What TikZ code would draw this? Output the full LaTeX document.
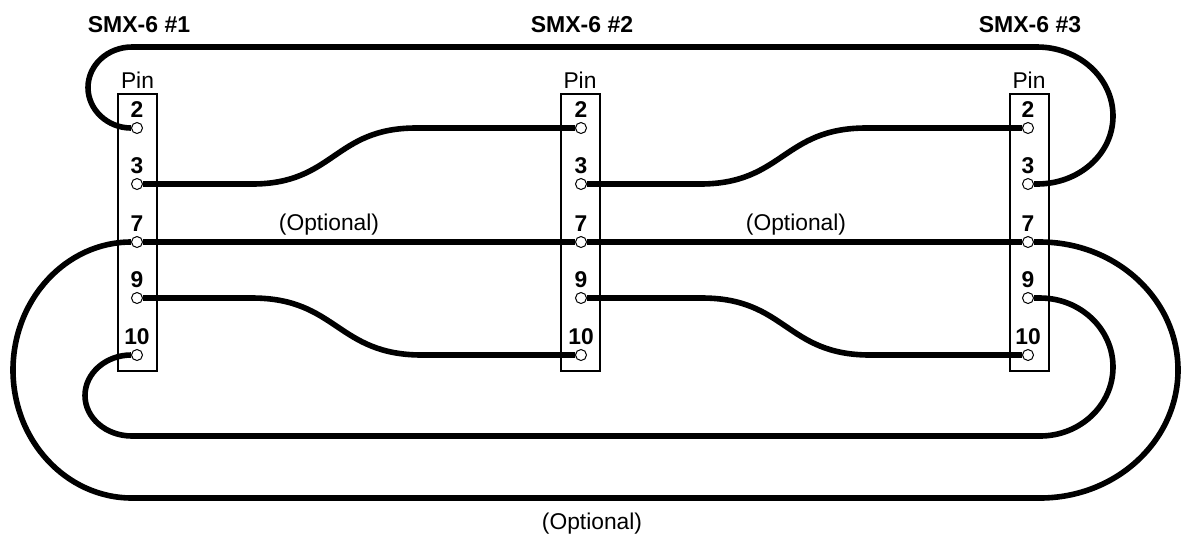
\documentclass[tikz,border=0pt]{standalone}
\usepackage{fontspec}
\setmainfont{Liberation Sans}
\usetikzlibrary{positioning}
\begin{document}
\begin{tikzpicture}[
   x=0.5pt,y=-0.5pt,
   font=\fontsize{11.4}{13}\selectfont,
   strip/.style={draw,line width=1pt,minimum width=19.5pt,minimum height=138.5pt,inner sep=0pt},
   pin/.style={circle,draw,fill=white,line width=0.5pt,minimum size=5.5pt,inner sep=0pt},
   num/.style={font=\fontsize{11.4}{13}\selectfont\bfseries,inner sep=0pt},
   title/.style={font=\fontsize{11.5}{13}\selectfont\bfseries,anchor=base},
   pinlbl/.style={inner sep=0pt},
   wire/.style={line width=2.8pt}]
\useasboundingbox (0,0) rectangle (1183,538);
% connectors
\node[strip] (A) at (137.5,232.5) {};
\node[strip] (B) at (580,232.5) {};
\node[strip] (C) at (1029,232.5) {};
\node[pinlbl, above=2pt of A] {Pin};
\node[pinlbl, above=2pt of B] {Pin};
\node[pinlbl, above=2pt of C] {Pin};
\node[title] (TA) at (139,32) {SMX-6 \#1};
\node[title] (TB) at (582,32) {SMX-6 \#2};
\node[title] (TC) at (1030,32) {SMX-6 \#3};
% pins
\node[pin] (A2) at (137,128) {};
\node[pin] (A3) at (137,184) {};
\node[pin] (A7) at (137,242) {};
\node[pin] (A9) at (137,298) {};
\node[pin] (A10) at (137,355) {};
\node[pin] (B2) at (581,128) {};
\node[pin] (B3) at (581,184) {};
\node[pin] (B7) at (581,242) {};
\node[pin] (B9) at (581,298) {};
\node[pin] (B10) at (581,355) {};
\node[pin] (C2) at (1028,128) {};
\node[pin] (C3) at (1028,184) {};
\node[pin] (C7) at (1028,242) {};
\node[pin] (C9) at (1028,298) {};
\node[pin] (C10) at (1028,355) {};
\node[num, above=2pt of A2] {2};
\node[num, above=2pt of A3] {3};
\node[num, above=2pt of A7] {7};
\node[num, above=2pt of A9] {9};
\node[num, above=2pt of A10] {10};
\node[num, above=2pt of B2] {2};
\node[num, above=2pt of B3] {3};
\node[num, above=2pt of B7] {7};
\node[num, above=2pt of B9] {9};
\node[num, above=2pt of B10] {10};
\node[num, above=2pt of C2] {2};
\node[num, above=2pt of C3] {3};
\node[num, above=2pt of C7] {7};
\node[num, above=2pt of C9] {9};
\node[num, above=2pt of C10] {10};
% wires
\draw[wire] (A2.west) .. controls (107.7,128) and (88,109.9) .. (88,87.5)
   .. controls (88,65.1) and (107.7,47) .. (132,47) -- (1037,47)
   .. controls (1079,47) and (1113,77.9) .. (1113,116)
   .. controls (1113,154.1) and (1079,184) .. (1037,184) -- (C3.east);
\draw[wire] (A3.east) -- (252,184) .. controls (334,184) and (334,128) .. (416,128) -- (B2.west);
\draw[wire] (B3.east) -- (700,184) .. controls (783,184) and (783,128) .. (866,128) -- (C2.west);
\draw[wire] (A9.east) -- (252,298) .. controls (337,298) and (337,355) .. (422,355) -- (B10.west);
\draw[wire] (B9.east) -- (702,298) .. controls (786,298) and (786,355) .. (870,355) -- (C10.west);
\draw[wire] (A7.east) -- (B7.west);
\draw[wire] (B7.east) -- (C7.west);
\draw[wire] (A7.west) .. controls (66.3,242) and (13,299.3) .. (13,370)
   .. controls (13,440.7) and (66.3,498) .. (132,498) -- (1040,498)
   .. controls (1116.2,498) and (1178,440.7) .. (1178,370)
   .. controls (1178,299.3) and (1116.2,242) .. (1040,242) -- (C7.east);
\draw[wire] (A10.west) .. controls (106,355) and (85,373.1) .. (85,395.5)
   .. controls (85,417.9) and (106,436) .. (132,436) -- (1040,436)
   .. controls (1080.3,436) and (1113,405.1) .. (1113,367)
   .. controls (1113,328.9) and (1080.3,298) .. (1040,298) -- (C9.east);
% labels
\node[anchor=base] (O1) at (329,230) {(Optional)};
\node[anchor=base] (O2) at (796,230) {(Optional)};
\node[anchor=base] (O3) at (592,529) {(Optional)};
\end{tikzpicture}
\end{document}
